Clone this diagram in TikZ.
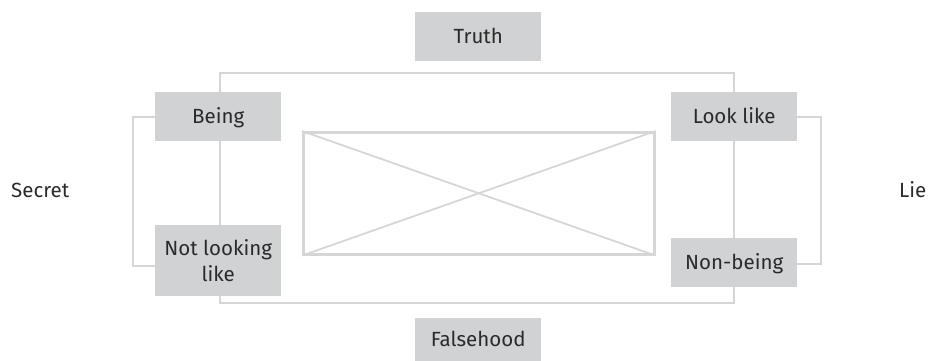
\documentclass[tikz,border=0pt]{standalone}
\usepackage{fontspec}
\setmainfont{Fira Sans}
\definecolor{linegray}{HTML}{D6D6D6}
\definecolor{boxgray}{HTML}{D1D2D4}
\definecolor{txt}{HTML}{2A2A2A}
\tikzset{
  lbox/.style={fill=boxgray, draw=none, minimum width=126pt, text=txt, font=\fontsize{20.5}{26}\selectfont, align=center, inner sep=0pt},
  onel/.style={text height=14pt, text depth=0pt},
  conn/.style={draw=linegray, line width=2.6pt},
  lbl/.style={text=txt, font=\fontsize{20.5}{26}\selectfont, inner sep=0pt, text height=14pt, text depth=0pt}
}
\begin{document}
\begin{tikzpicture}[x=1pt,y=-1pt]
\useasboundingbox (0,0) rectangle (930,361);
\node[lbox, onel, minimum height=49pt, anchor=north west] (truth) at (415,12) {Truth};
\node[lbox, onel, minimum height=43pt, anchor=north west] (false) at (415,318) {Falsehood};
\node[lbox, onel, minimum height=49pt, anchor=north west] (being) at (155,92) {Being};
\node[lbox, minimum height=71pt, anchor=north west] (notlook) at (155,225) {Not looking\\like};
\node[lbox, onel, minimum height=49pt, anchor=north west] (look) at (671,92) {Look like};
\node[lbox, onel, minimum height=49pt, anchor=north west] (nonbeing) at (671,238) {Non-being};
\node[lbl, anchor=west] (secret) at (11,190) {Secret};
\node[lbl, anchor=west] (lie) at (899,190) {Lie};
\coordinate (tl) at (220,73);
\coordinate (tr) at (734,73);
\coordinate (bl) at (220,303);
\coordinate (br) at (734,303);
\coordinate (lb1) at (133,117);
\coordinate (lb2) at (133,266);
\coordinate (rb1) at (821,117);
\coordinate (rb2) at (821,264);
\draw[conn] (being.north -| tl) -- (tl) -- (tr) -- (look.north -| tr);
\draw[conn] (notlook.south -| bl) -- (bl) -- (br) -- (nonbeing.south -| br);
\draw[conn] (being.south -| tl) -- (notlook.north -| tl);
\draw[conn] (look.south -| tr) -- (nonbeing.north -| tr);
\draw[conn] (being.west |- lb1) -- (lb1) -- (lb2) -- (notlook.west |- lb2);
\draw[conn] (look.east |- rb1) -- (rb1) -- (rb2) -- (nonbeing.east |- rb2);
% center box with cross
\node[draw=linegray, line width=2.6pt, minimum width=351pt, minimum height=122pt, anchor=north west, inner sep=0pt] (mid) at (302,131) {};
\draw[conn, line width=1.8pt] (mid.north west) -- (mid.south east);
\draw[conn, line width=1.8pt] (mid.south west) -- (mid.north east);
\end{tikzpicture}
\end{document}
